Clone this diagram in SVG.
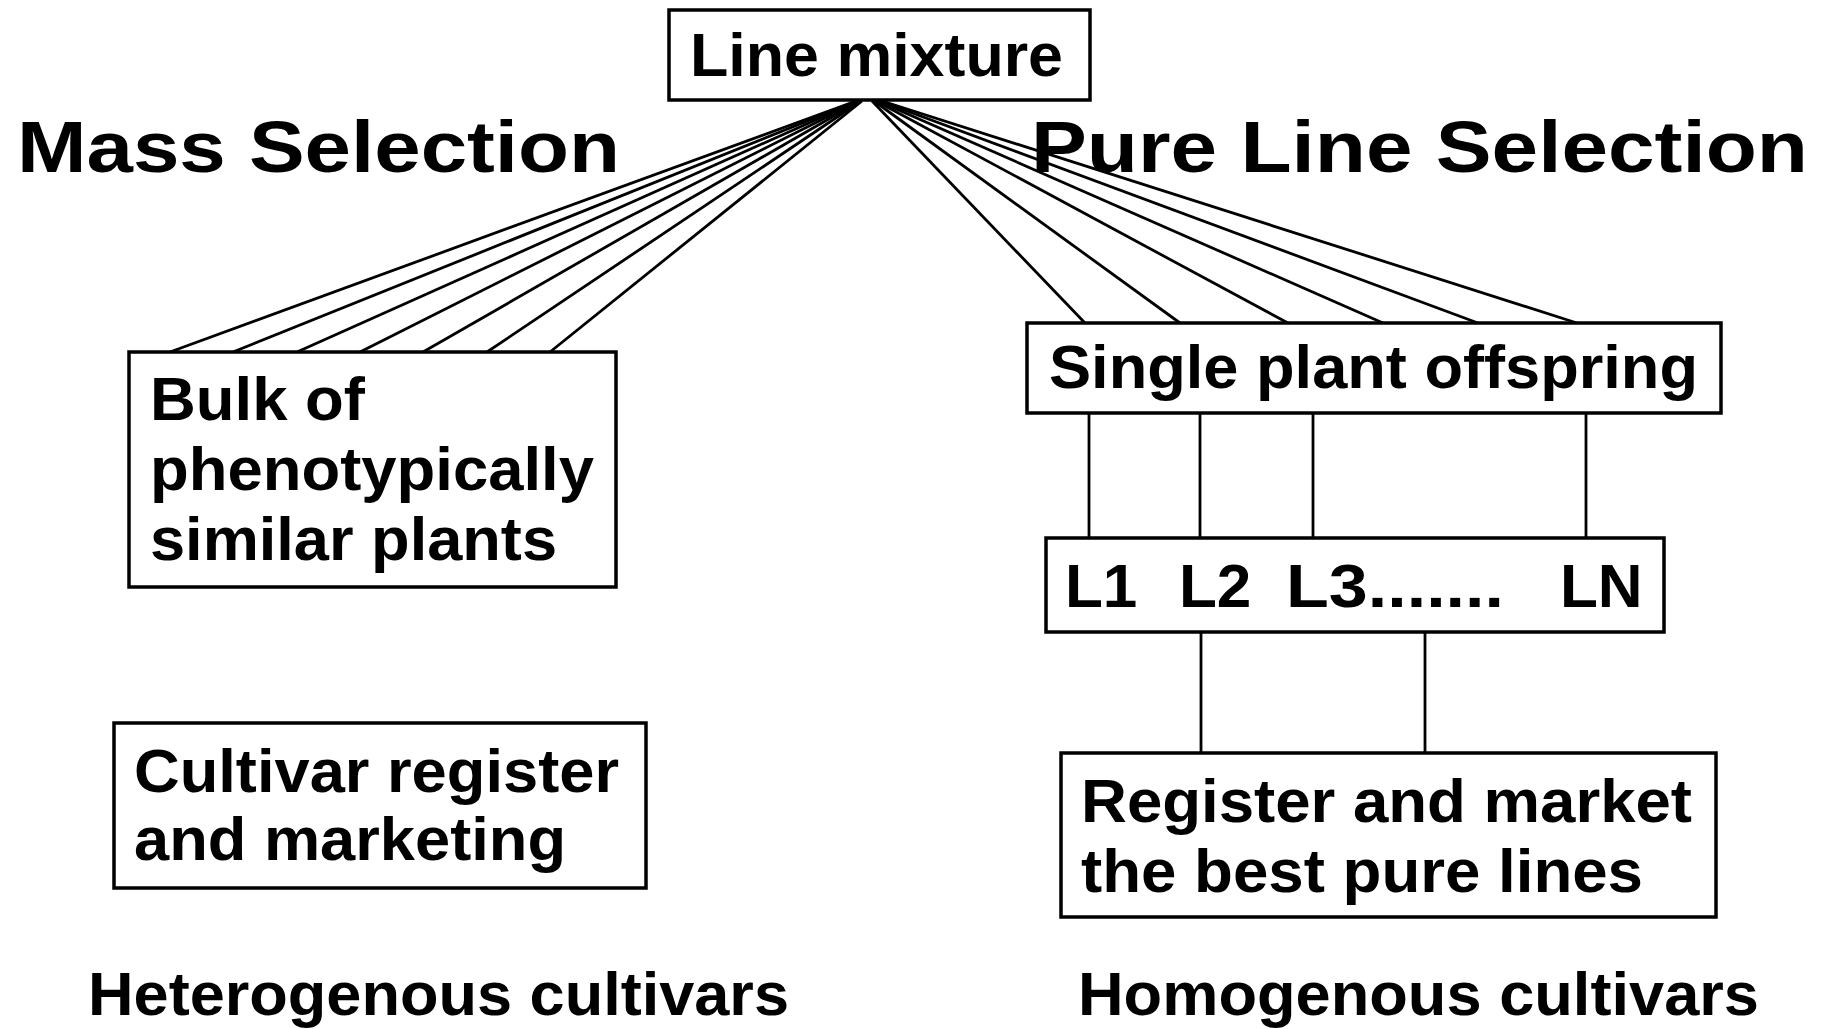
<svg xmlns="http://www.w3.org/2000/svg" width="1827" height="1029" viewBox="0 0 1827 1029">
<style>
.box{fill:#fff;stroke:#000;stroke-width:3.5}
.t{font-family:"Liberation Sans",Arial,sans-serif;font-weight:bold;font-size:62px;fill:#000}
.h{font-family:"Liberation Sans",Arial,sans-serif;font-weight:bold;font-size:73px;fill:#000}
.c{stroke:#000;stroke-width:2.8;fill:none}
</style>
<rect width="1827" height="1029" fill="#fff"/>
<g id="connectors">
<line class="c" x1="856" y1="101" x2="170" y2="352"/>
<line class="c" x1="857" y1="101" x2="233" y2="352"/>
<line class="c" x1="858" y1="101" x2="297" y2="352"/>
<line class="c" x1="859" y1="101" x2="360" y2="352"/>
<line class="c" x1="860" y1="101" x2="423" y2="352"/>
<line class="c" x1="861" y1="101" x2="487" y2="352"/>
<line class="c" x1="862" y1="101" x2="550" y2="352"/>
<line class="c" x1="872" y1="101" x2="1085" y2="323"/>
<line class="c" x1="874" y1="101" x2="1180" y2="323"/>
<line class="c" x1="876" y1="101" x2="1288" y2="323"/>
<line class="c" x1="878" y1="101" x2="1383" y2="323"/>
<line class="c" x1="880" y1="101" x2="1478" y2="323"/>
<line class="c" x1="882" y1="101" x2="1577" y2="323"/>
<line class="c" x1="1089" y1="413" x2="1089" y2="547"/>
<line class="c" x1="1200" y1="413" x2="1200" y2="547"/>
<line class="c" x1="1313" y1="413" x2="1313" y2="547"/>
<line class="c" x1="1586" y1="413" x2="1586" y2="547"/>
<line class="c" x1="1201" y1="632" x2="1201" y2="753"/>
<line class="c" x1="1425" y1="632" x2="1425" y2="753"/>
</g>
<g id="mass-selection-title"><text class="h" x="17" y="172" textLength="603" lengthAdjust="spacingAndGlyphs">Mass Selection</text></g>
<g id="pure-line-selection-title"><text class="h" x="1031" y="172" textLength="777" lengthAdjust="spacingAndGlyphs">Pure Line Selection</text></g>
<g id="line-mixture">
<rect class="box" x="669" y="10" width="421" height="90"/>
<text class="t" x="690" y="76" textLength="373" lengthAdjust="spacingAndGlyphs">Line mixture</text>
</g>
<g id="bulk">
<rect class="box" x="129" y="352" width="487" height="235"/>
<text class="t" x="150" y="420" textLength="215" lengthAdjust="spacingAndGlyphs">Bulk of</text>
<text class="t" x="150" y="490" textLength="444" lengthAdjust="spacingAndGlyphs">phenotypically</text>
<text class="t" x="150" y="560" textLength="407" lengthAdjust="spacingAndGlyphs">similar plants</text>
</g>
<g id="cultivar-register">
<rect class="box" x="114" y="723" width="532" height="165"/>
<text class="t" x="134" y="792" textLength="485" lengthAdjust="spacingAndGlyphs">Cultivar register</text>
<text class="t" x="134" y="860" textLength="432" lengthAdjust="spacingAndGlyphs">and marketing</text>
</g>
<g id="single-plant">
<rect class="box" x="1027" y="323" width="694" height="90"/>
<text class="t" x="1049" y="388" textLength="649" lengthAdjust="spacingAndGlyphs">Single plant offspring</text>
</g>
<g id="lines">
<rect class="box" x="1046" y="538" width="618" height="94"/>
<text class="t" x="1065" y="607">L1</text>
<text class="t" x="1179" y="607">L2</text>
<text class="t" x="1286" y="607" textLength="218" lengthAdjust="spacingAndGlyphs">L3.......</text>
<text class="t" x="1560" y="607">LN</text>
</g>
<g id="register-market">
<rect class="box" x="1061" y="753" width="655" height="164"/>
<text class="t" x="1081" y="822" textLength="611" lengthAdjust="spacingAndGlyphs">Register and market</text>
<text class="t" x="1081" y="892" textLength="562" lengthAdjust="spacingAndGlyphs">the best pure lines</text>
</g>
<g id="heterogenous"><text class="t" x="88" y="1015" textLength="701" lengthAdjust="spacingAndGlyphs">Heterogenous cultivars</text></g>
<g id="homogenous"><text class="t" x="1078" y="1015" textLength="681" lengthAdjust="spacingAndGlyphs">Homogenous cultivars</text></g>
</svg>
